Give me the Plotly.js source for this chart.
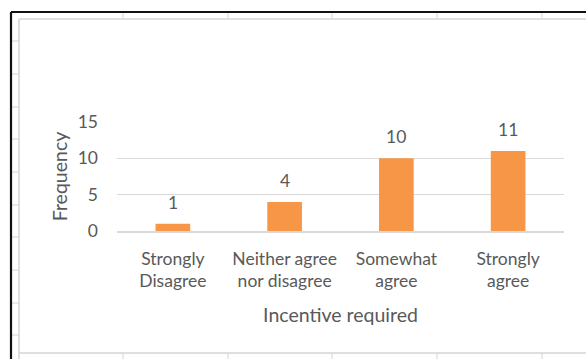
<!DOCTYPE html>
<html>
<head>
<meta charset="utf-8">
<script src="https://cdn.plot.ly/plotly-3.0.1.min.js"></script>
<style>
  html, body { margin: 0; padding: 0; background: #ffffff; }
  #chart { width: 586px; height: 359px; }
</style>
</head>
<body>
<div id="chart"></div>
<script>
// ---- data ----
const categories = ["Strongly<br>Disagree", "Neither agree<br>nor disagree", "Somewhat<br>agree", "Strongly<br>agree"];
const frequency = [1, 4, 10, 11];
const yTicks = [0, 5, 10, 15];
const xAxisTitle = "Incentive required";
const yAxisTitle = "Frequency";

// ---- layout geometry ----
const W = 586, H = 359;
const M = { l: 117, r: 22, t: 122, b: 128 };
const pw = W - M.l - M.r, ph = H - M.t - M.b;
const px = x => (x - M.l) / pw;
const py = y => (H - M.b - y) / ph;

const FONT = "Lato, 'Open Sans', sans-serif";
const TXT = "#595959";
const GRID = "#d9d9d9";
const SHEET = "#d4d4d4";
const TICK_SIZE = 17.5;
const TITLE_SIZE = 19.5;

const shapes = [];
function line(x0, y0, x1, y1, color, width) {
  shapes.push({ type: "line", xref: "paper", yref: "paper", layer: "below",
    x0: px(x0), y0: py(y0), x1: px(x1), y1: py(y1),
    line: { color: color, width: width } });
}
// spreadsheet cell borders peeking around the chart
[123, 228, 332, 437, 542].forEach(x => { line(x, 12, x, 19, SHEET, 1); line(x, 353, x, 359, SHEET, 1); });
[41, 74, 107, 139, 172, 205, 237, 270, 303, 335].forEach(y => line(11, y, 19, y, SHEET, 1));
// chart area border
line(19, 19, 586, 19, SHEET, 1.5);
line(19, 353, 586, 353, SHEET, 1.5);
line(19, 19, 19, 359, SHEET, 1.5);
// black frame
line(11, 12, 586, 12, "#111111", 2.2);
line(11, 12, 11, 359, "#111111", 2.2);

const annotations = categories.map((c, i) => ({
  x: c, y: frequency[i], xref: "x", yref: "y",
  text: String(frequency[i]), showarrow: false,
  yanchor: "bottom", yshift: 9,
  font: { family: FONT, size: TICK_SIZE, color: TXT }
}));

const trace = {
  type: "bar",
  x: categories,
  y: frequency,
  marker: { color: "#F79646" },
  hoverinfo: "none"
};

const layout = {
  width: W, height: H,
  margin: M,
  paper_bgcolor: "#ffffff",
  plot_bgcolor: "#ffffff",
  showlegend: false,
  bargap: 0.69,
  font: { family: FONT, color: TXT, size: TICK_SIZE },
  xaxis: {
    type: "category",
    showgrid: false,
    showline: true, linecolor: GRID, linewidth: 1.5,
    ticks: "", ticklabelstandoff: 11,
    tickfont: { family: FONT, size: TICK_SIZE, color: TXT },
    title: { text: xAxisTitle, standoff: 18, font: { family: FONT, size: TITLE_SIZE, color: TXT } },
    fixedrange: true
  },
  yaxis: {
    range: [0, 15],
    tickvals: yTicks,
    showgrid: true, gridcolor: GRID, gridwidth: 1.5,
    zeroline: false,
    showline: false,
    ticks: "", ticklabelstandoff: 18,
    tickfont: { family: FONT, size: TICK_SIZE, color: TXT },
    title: { text: yAxisTitle, standoff: 4, font: { family: FONT, size: TITLE_SIZE, color: TXT } },
    fixedrange: true
  },
  shapes: shapes,
  annotations: annotations
};

Plotly.newPlot("chart", [trace], layout, { displayModeBar: false, staticPlot: true });
</script>
</body>
</html>
